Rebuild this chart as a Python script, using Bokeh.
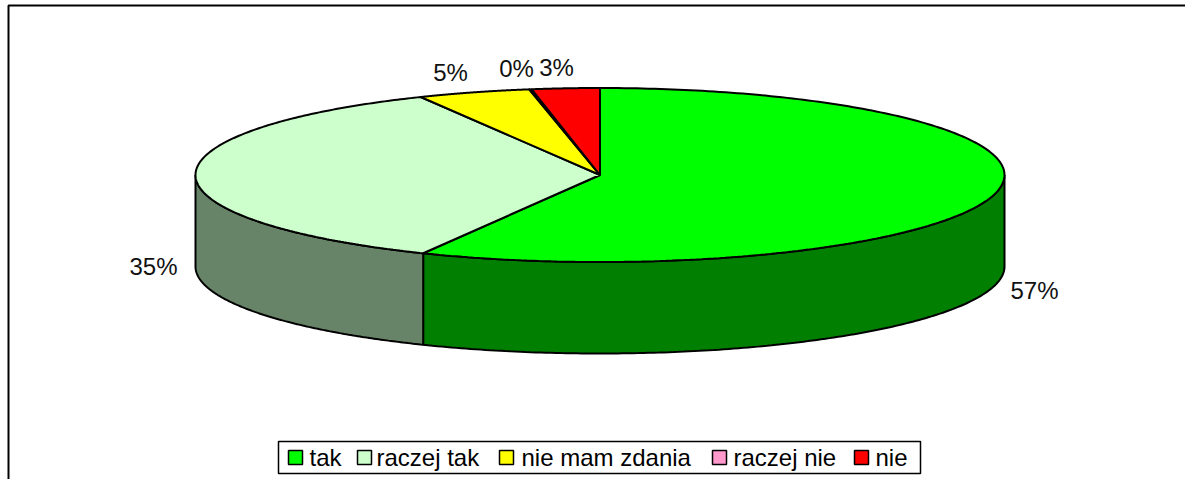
import numpy as np
from bokeh.plotting import figure
from bokeh.models import ColumnDataSource
from bokeh.core.properties import value
from bokeh.embed import file_html
from bokeh.resources import INLINE

categories = ["tak", "raczej tak", "nie mam zdania", "raczej nie", "nie"]
shares = [57.2, 35.49, 4.51, 0.1, 2.7]
top_colors = ["#00ff00", "#ccffcc", "#ffff00", "#ff99cc", "#ff0000"]
side_colors = ["#007f00", "#688468", "#7f7f00", "#7f4c66", "#7f0000"]

W, H = 1185, 479
CX, CY, RX, RY, DEPTH = 599.5, 174.5, 404.5, 87.0, 91.5
FONT = value("Liberation Sans")
FS = "24px"

p = figure(width=W, height=H, x_range=(0, W), y_range=(H, 0), output_backend="svg",
           toolbar_location=None, min_border=0, margin=(0, 0, 0, 0),
           background_fill_color="white", border_fill_color="white", outline_line_color=None)
p.axis.visible = False
p.grid.visible = False

# frame
p.multi_line([[8, 8, W]], [[H, 5, 5]], line_color="black", line_width=2)

def ell(a, dy=0.0):
    r = np.radians(a)
    return CX + RX * np.sin(r), CY - RY * np.cos(r) + dy

edges = np.concatenate([[0], np.cumsum(shares) / sum(shares) * 360])

# rim: only the part of each slice that faces the viewer
for i in range(len(shares)):
    a0, a1 = max(edges[i], 90), min(edges[i + 1], 270)
    if a1 <= a0:
        continue
    t = np.linspace(a0, a1, 160)
    xt, yt = ell(t)
    xb, yb = ell(t[::-1], DEPTH)
    p.patch(np.r_[xt, xb], np.r_[yt, yb], fill_color=side_colors[i], line_color="black", line_width=2)

# top face
for i in range(len(shares)):
    t = np.linspace(edges[i], edges[i + 1], 240)
    xt, yt = ell(t)
    p.patch(np.r_[CX, xt], np.r_[CY, yt], fill_color=top_colors[i], line_color="black", line_width=2)

# percentage labels
label_x = [1034, 153, 450, 516, 556]
label_y = [290, 266, 72, 68, 67]
p.text(label_x, label_y, text=[f"{round(s)}%" for s in shares], text_font=FONT, text_font_size=FS,
       text_color="#111111", text_align="center", text_baseline="middle")

# legend
p.quad(left=[278], right=[920], top=[441], bottom=[473], fill_color="white", line_color="black", line_width=1.5)
swatch_x = [295, 364, 506, 719, 861]
text_x = [309, 376, 521, 733, 875]
src = ColumnDataSource(dict(x=[s - 7 for s in swatch_x], r=[s + 7 for s in swatch_x],
                            t=[450] * 5, b=[464] * 5, c=top_colors))
p.quad(left="x", right="r", top="t", bottom="b", fill_color="c", line_color="black", line_width=1.5, source=src)
p.text(text_x, [457] * 5, text=categories, text_font=FONT, text_font_size=FS, text_color="black",
       text_align="left", text_baseline="middle")

open("out.html", "w").write(file_html(p, INLINE))
